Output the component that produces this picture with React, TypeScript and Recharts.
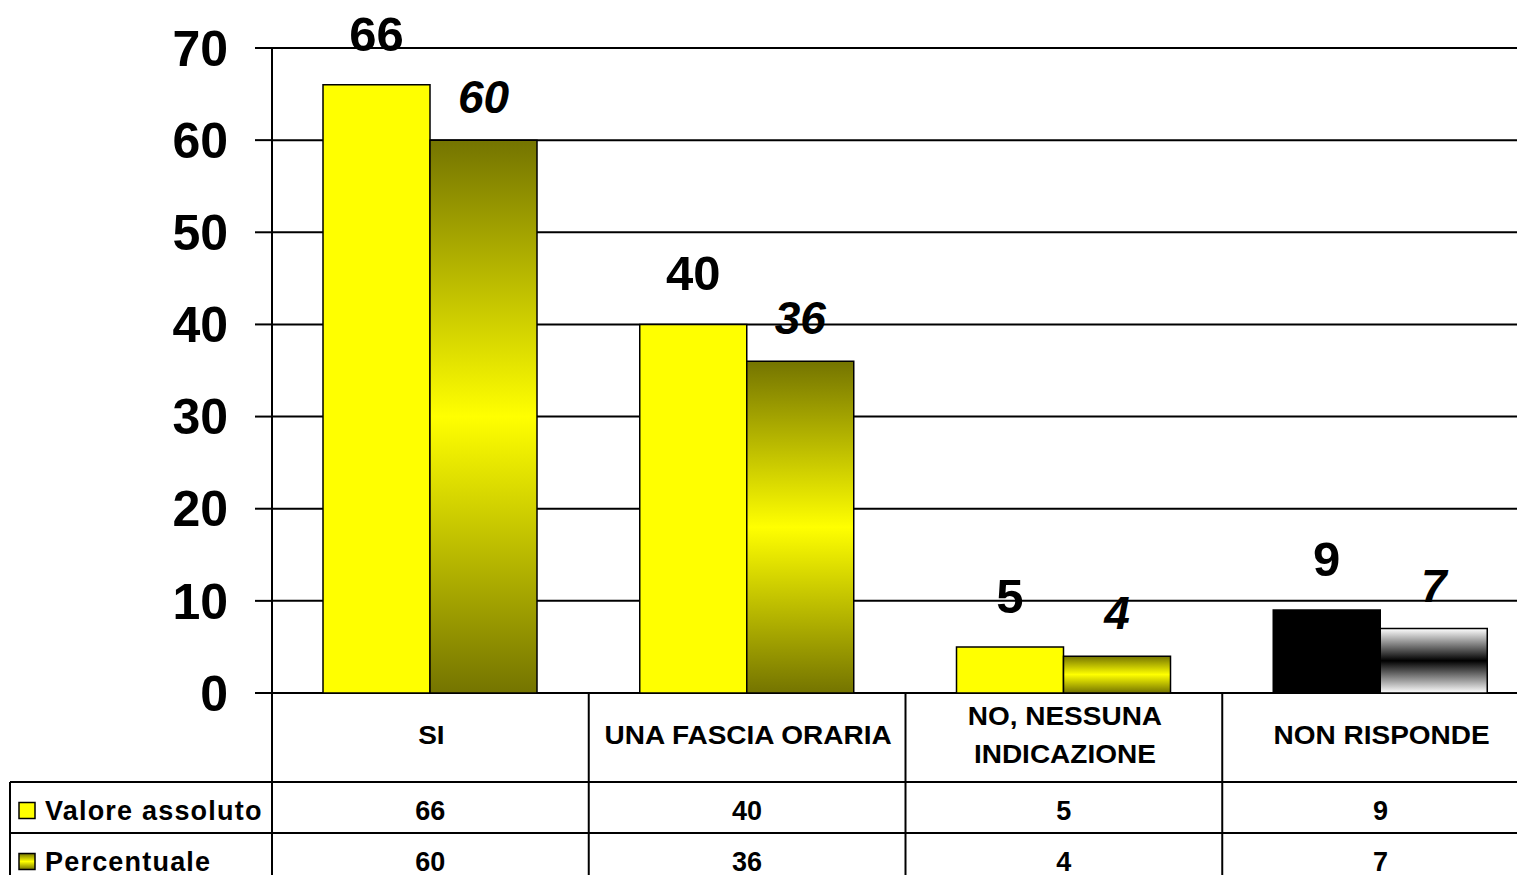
import React from 'react'
import { BarChart, Bar, XAxis, YAxis, CartesianGrid, Cell, LabelList } from 'recharts'

const categories = ['SI', 'UNA FASCIA ORARIA', 'NO, NESSUNA INDICAZIONE', 'NON RISPONDE']
const valoreAssoluto = [66, 40, 5, 9]
const percentuale = [60, 36, 4, 7]
const yTicks = [0, 10, 20, 30, 40, 50, 60, 70]
const seriesNames = ['Valore assoluto', 'Percentuale']

const data = categories.map((name, i) => ({ name, abs: valoreAssoluto[i], pct: percentuale[i] }))

const W = 1540
const H = 885
const LEFT = 272
const TOP = 48
const RIGHT = 1
const AXIS_H = 192
const BAND = (W - LEFT - RIGHT) / categories.length
const CAT_ROW = 89
const ROW = 51
const FONT = 'Liberation Sans, Arial, sans-serif'

function wrap(text: string, maxChars: number) {
  const words = text.split(' ')
  const lines: string[] = []
  let cur = ''
  for (const w of words) {
    const next = cur ? cur + ' ' + w : w
    if (next.length > maxChars && cur) {
      lines.push(cur)
      cur = w
    } else cur = next
  }
  if (cur) lines.push(cur)
  return lines
}

function TableTick(props: any) {
  const { x, y, payload, index } = props
  const left = x - BAND / 2
  const right = x + BAND / 2
  const y1 = y + CAT_ROW
  const y2 = y1 + ROW
  const lines = wrap(String(payload.value), 17)
  const rows = [valoreAssoluto[index], percentuale[index]]
  const line = { stroke: '#000', strokeWidth: 2 }
  return (
    <g>
      <line x1={left} y1={y} x2={left} y2={H} {...line} />
      <line x1={left} y1={y1} x2={right} y2={y1} {...line} />
      <line x1={left} y1={y2} x2={right} y2={y2} {...line} />
      {lines.map((l, li) => {
        const ty = y + CAT_ROW / 2 - 2 + (li - (lines.length - 1) / 2) * 38
        return (
          <text key={li} transform={`translate(${x + 1},${ty}) scale(1.12,1)`} x={0} y={0} textAnchor="middle" dominantBaseline="central"
            fontFamily={FONT} fontWeight="bold" fontSize={25} fill="#000">{l}</text>
        )
      })}
      {rows.map((v, ri) => (
        <text key={ri} x={x} y={y1 + ROW / 2 + ri * ROW + 3} textAnchor="middle" dominantBaseline="central"
          fontFamily={FONT} fontWeight="bold" fontSize={27} fill="#000">{v}</text>
      ))}
      {index === 0 && (
        <g>
          <line x1={10} y1={y1} x2={left} y2={y1} {...line} />
          <line x1={10} y1={y2} x2={left} y2={y2} {...line} />
          <line x1={10} y1={y1} x2={10} y2={H} {...line} />
          {seriesNames.map((s, si) => {
            const cy = y1 + ROW / 2 + si * ROW + 3
            return (
              <g key={s}>
                <rect x={19} y={cy - 8} width={16} height={16} fill={si === 0 ? '#ffff00' : 'url(#olive)'} stroke="#000" strokeWidth={1.5} />
                <text x={45} y={cy} dominantBaseline="central" fontFamily={FONT} fontWeight="bold" fontSize={27} letterSpacing={1.2} fill="#000">{s}</text>
              </g>
            )
          })}
        </g>
      )}
    </g>
  )
}

function topLabel(offset: number, italic: boolean) {
  return (props: any) => {
    const { x, y, width, value } = props
    return (
      <text x={Number(x) + Number(width) / 2} y={Number(y) - offset} textAnchor="middle" fontFamily={FONT} fontWeight="bold"
        fontStyle={italic ? 'italic' : 'normal'} fontSize={italic ? 46 : 49} fill="#000">{value}</text>
    )
  }
}

export default function App() {
  return (
    <div style={{ position: 'absolute', left: 0, top: 0, width: 1517, height: 875, overflow: 'hidden', background: '#fff' }}>
      <BarChart width={W} height={H} data={data} margin={{ top: TOP, right: RIGHT, left: 0, bottom: 0 }} barGap={0} barSize={107}>
        <defs>
          <linearGradient id="olive" x1="0" y1="0" x2="0" y2="1">
            <stop offset="0%" stopColor="#747400" />
            <stop offset="50%" stopColor="#ffff00" />
            <stop offset="100%" stopColor="#747400" />
          </linearGradient>
          <linearGradient id="grey" x1="0" y1="0" x2="0" y2="1">
            <stop offset="0%" stopColor="#ffffff" />
            <stop offset="50%" stopColor="#000000" />
            <stop offset="100%" stopColor="#ffffff" />
          </linearGradient>
        </defs>
        <CartesianGrid vertical={false} stroke="#000" strokeWidth={2} />
        <XAxis dataKey="name" height={AXIS_H} axisLine={false} tickLine={false} tickSize={0} tickMargin={0} interval={0} tick={<TableTick />} />
        <YAxis domain={[0, 70]} ticks={yTicks} width={LEFT} axisLine={{ stroke: '#000', strokeWidth: 2 }}
          tickLine={{ stroke: '#000', strokeWidth: 2 }} tickSize={17} tickMargin={27}
          tick={{ fill: '#000', fontSize: 50, fontWeight: 'bold', fontFamily: FONT }} />
        <Bar dataKey="abs" name={seriesNames[0]} fill="#ffff00" stroke="#000" strokeWidth={1.5} isAnimationActive={false}>
          {data.map((d, i) => <Cell key={d.name} fill={i === 3 ? '#000' : '#ffff00'} />)}
          <LabelList dataKey="abs" content={topLabel(34, false)} />
        </Bar>
        <Bar dataKey="pct" name={seriesNames[1]} fill="url(#olive)" stroke="#000" strokeWidth={1.5} isAnimationActive={false}>
          {data.map((d, i) => <Cell key={d.name} fill={i === 3 ? 'url(#grey)' : 'url(#olive)'} />)}
          <LabelList dataKey="pct" content={topLabel(27, true)} />
        </Bar>
      </BarChart>
    </div>
  )
}
